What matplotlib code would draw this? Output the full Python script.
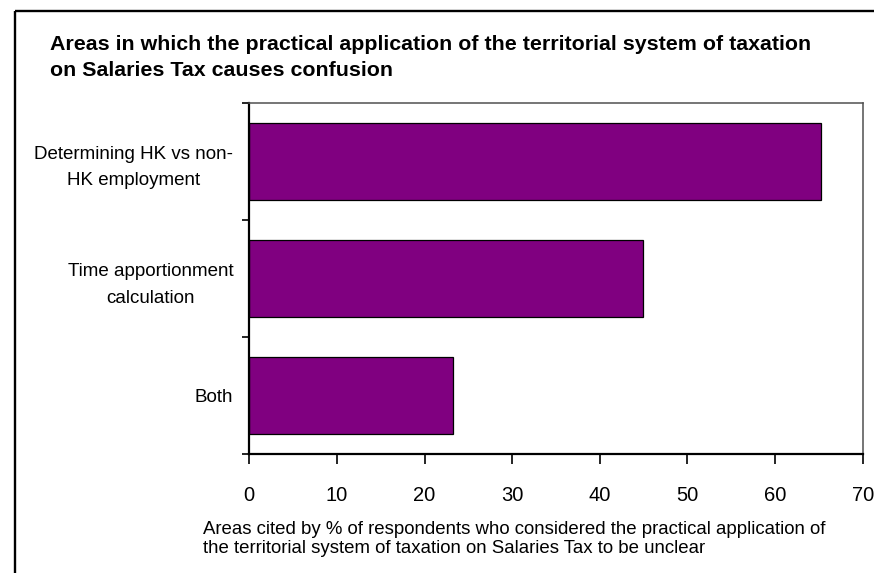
import numpy as np
import matplotlib
matplotlib.use("Agg")
from matplotlib import pyplot as plt
from matplotlib.lines import Line2D

plt.rcParams['font.family'] = ['Liberation Sans', 'DejaVu Sans']

categories = ["Determining HK vs non-\nHK employment",
              "Time apportionment\ncalculation",
              "Both"]
percent = [65.2, 44.9, 23.2]

title_lines = ["Areas in which the practical application of the territorial system of taxation",
               "on Salaries Tax causes confusion"]
xlabel_lines = ["Areas cited by % of respondents who considered the practical application of",
                "the territorial system of taxation on Salaries Tax to be unclear"]

W, H = 874, 573
fig = plt.figure(figsize=(W / 100, H / 100), dpi=100)

def px(x, y):
    return x / W, 1 - y / H

# outer chart frame (only left and top edges show)
fig.add_artist(Line2D([15.5 / W, 15.5 / W], [0, 1 - 10.5 / H], color="black", lw=1.7,
                      transform=fig.transFigure, solid_capstyle="butt"))
fig.add_artist(Line2D([15.5 / W, 1], [1 - 10.5 / H, 1 - 10.5 / H], color="black", lw=1.7,
                      transform=fig.transFigure, solid_capstyle="butt"))

l, b = px(249.3, 454.3)
r, t = px(862.7, 102.7)
ax = fig.add_axes([l, b, r - l, t - b])

pos = np.arange(len(categories))
ax.barh(pos, percent, height=0.66, color="#800080", edgecolor="black", linewidth=0.9)

ax.set_xlim(0, 70)
ax.set_ylim(len(categories) - 0.5, -0.5)
ax.set_xticks(np.arange(0, 71, 10))
ax.tick_params(axis="x", direction="out", length=7, width=1.2, pad=15.5, labelsize=14.5)

ax.set_yticks(pos)
ax.set_yticklabels(categories, multialignment="center", linespacing=1.7)
ax.set_yticks(np.arange(-0.5, len(categories), 1.0), minor=True)
ax.tick_params(axis="y", which="major", length=0, pad=11.5, labelsize=13.5)
ax.tick_params(axis="y", which="minor", direction="out", length=5, width=1.2)

for side in ("left", "bottom"):
    ax.spines[side].set_linewidth(1.6)
    ax.spines[side].set_color("black")
for side in ("top", "right"):
    ax.spines[side].set_linewidth(1.1)
    ax.spines[side].set_color("#505050")

for i, line in enumerate(title_lines):
    x, y = px(50, 50 + 26 * i)
    fig.text(x, y, line, fontsize=15.4, fontweight="bold", va="baseline", ha="left")

for i, line in enumerate(xlabel_lines):
    x, y = px(203, 534 + 19 * i)
    fig.text(x, y, line, fontsize=13.4, va="baseline", ha="left")

fig.savefig("out.png", dpi=100)
